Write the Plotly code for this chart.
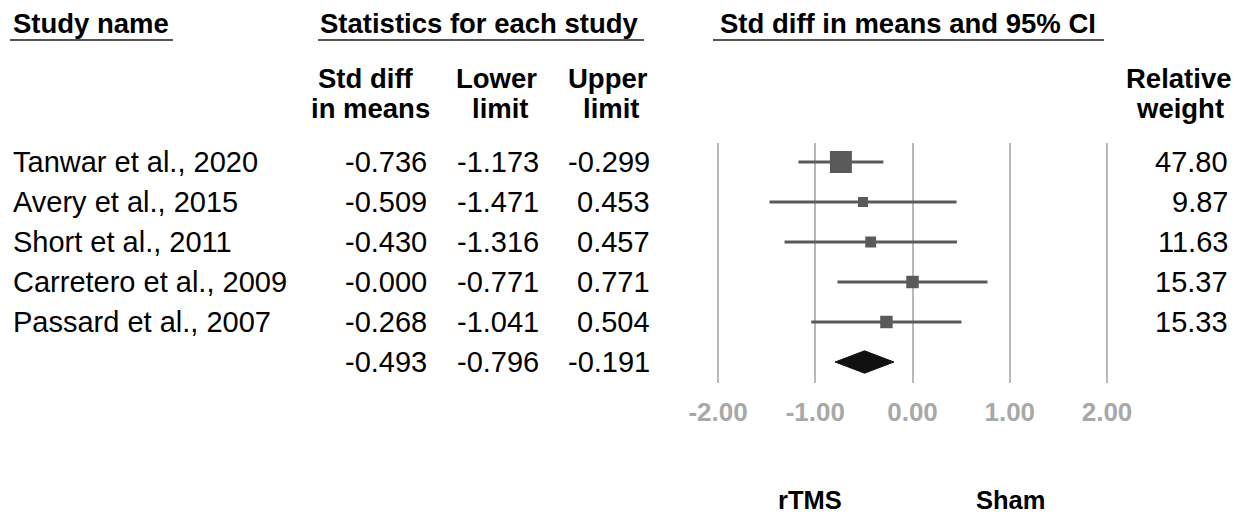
import plotly.graph_objects as go

studies = ["Tanwar et al., 2020", "Avery et al., 2015", "Short et al., 2011",
           "Carretero et al., 2009", "Passard et al., 2007"]
smd = [-0.736, -0.509, -0.430, -0.000, -0.268]
lower = [-1.173, -1.471, -1.316, -0.771, -1.041]
upper = [-0.299, 0.453, 0.457, 0.771, 0.504]
weights = [47.80, 9.87, 11.63, 15.37, 15.33]
summary = {"smd": -0.493, "lower": -0.796, "upper": -0.191}
tick_vals = [-2, -1, 0, 1, 2]
tick_text = ["-2.00", "-1.00", "0.00", "1.00", "2.00"]

W, H = 1244, 516
FONT = "Arial, Liberation Sans, sans-serif"
GREY = "#5a5a5a"

def px(x):
    return x / W

def py(y):
    return 1 - y / H

fig = go.Figure()

rows = list(range(len(studies)))
for i in rows:
    fig.add_trace(go.Scatter(x=[lower[i], upper[i]], y=[i, i], mode="lines",
                             line=dict(color=GREY, width=3), hoverinfo="skip",
                             showlegend=False))
fig.add_trace(go.Scatter(x=smd, y=rows, mode="markers",
                         marker=dict(symbol="square", color=GREY, opacity=1,
                                     size=[3.18 * w ** 0.5 for w in weights],
                                     line=dict(width=0)),
                         showlegend=False))
sr = len(studies)
fig.add_trace(go.Scatter(
    x=[summary["lower"], summary["smd"], summary["upper"], summary["smd"], summary["lower"]],
    y=[sr, sr - 0.28, sr, sr + 0.28, sr],
    mode="lines", fill="toself", fillcolor="#111111",
    line=dict(color="#111111", width=1), showlegend=False))

ann = []

def text(x, y, s, size=29, bold=False, anchor="left", color="black"):
    ann.append(dict(x=px(x), y=py(y), xref="paper", yref="paper", text=f"<b>{s}</b>" if bold else s,
                    showarrow=False, xanchor=anchor, yanchor="middle",
                    font=dict(family=FONT, size=size, color=color)))

HS = 27.5
text(11, 24, "Study name", size=HS, bold=True)
text(480, 24, "Statistics for each study", size=HS, bold=True, anchor="center")
text(908, 24, "Std diff in means and 95% CI", size=HS, bold=True, anchor="center")

text(366, 78, "Std diff", size=HS, bold=True, anchor="center")
text(370, 108, "in means", size=HS, bold=True, anchor="center")
text(496, 78, "Lower", size=HS, bold=True, anchor="center")
text(501, 108, "limit", size=HS, bold=True, anchor="center")
text(608, 78, "Upper", size=HS, bold=True, anchor="center")
text(611, 108, "limit", size=HS, bold=True, anchor="center")
text(1178, 78, "Relative", size=HS, bold=True, anchor="center")
text(1180, 108, "weight", size=HS, bold=True, anchor="center")

row_y = [162 + 40 * i for i in range(len(studies) + 1)]
for i, s in enumerate(studies):
    text(11, row_y[i], s)
    text(429, row_y[i], f"{smd[i]:.3f}" if smd[i] != 0 else "-0.000", anchor="right")
    text(541, row_y[i], f"{lower[i]:.3f}", anchor="right")
    text(652, row_y[i], f"{upper[i]:.3f}", anchor="right")
    text(1230, row_y[i], f"{weights[i]:.2f}", anchor="right")
text(429, row_y[-1], f"{summary['smd']:.3f}", anchor="right")
text(541, row_y[-1], f"{summary['lower']:.3f}", anchor="right")
text(652, row_y[-1], f"{summary['upper']:.3f}", anchor="right")

text(810, 500, "rTMS", size=25.5, bold=True, anchor="center")
text(1010, 500, "Sham", size=25.5, bold=True, anchor="center")

shapes = []
for x0, x1 in [(10, 173), (318, 644), (713, 1104)]:
    shapes.append(dict(type="line", xref="paper", yref="paper", x0=px(x0), x1=px(x1),
                       y0=py(40), y1=py(40), line=dict(color="#555555", width=2)))

# x scale: -2 -> 718 px, 2 -> 1107 px; range padded so edge gridlines are drawn
ppu = (1107 - 718) / 4
pad = 0.06
x_lo, x_hi = -2 - pad, 2 + pad
dom = [px(718 - pad * ppu), px(1107 + pad * ppu)]

top_px, bot_px = 143, 383
y_top = (top_px - 162) / 40
y_bot = (bot_px - 162) / 40

fig.update_layout(
    width=W, height=H, margin=dict(l=0, r=0, t=0, b=0, autoexpand=False),
    paper_bgcolor="white", plot_bgcolor="white",
    annotations=ann, shapes=shapes,
    xaxis=dict(domain=dom, range=[x_lo, x_hi], tickvals=tick_vals,
               ticktext=[f"<b>{t}</b>" for t in tick_text],
               showgrid=True, gridcolor="#b8b8b8", gridwidth=2,
               zeroline=False, showline=False, ticks="",
               ticklabelstandoff=11, automargin=False,
               tickfont=dict(family=FONT, size=26, color="#a8a8a8")),
    yaxis=dict(domain=[py(bot_px), py(top_px)], range=[y_bot, y_top],
               showgrid=False, zeroline=False, showticklabels=False, ticks="",
               automargin=False),
)

fig.write_html("out.html", config={"responsive": False, "displayModeBar": False},
               post_script="document.body.style.margin='0';document.body.style.overflow='hidden';")
